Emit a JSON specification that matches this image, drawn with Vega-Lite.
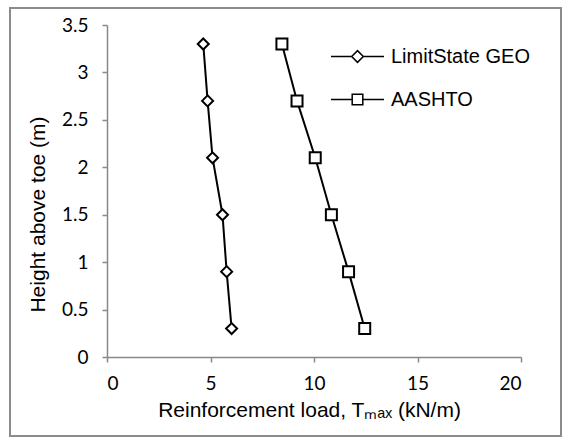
{
  "$schema": "https://vega.github.io/schema/vega-lite/v6.json",
  "width": 414,
  "height": 332,
  "autosize": {"type": "none"},
  "padding": {"left": 107, "top": 25, "right": 45, "bottom": 80},
  "background": "white",
  "config": {
    "view": {"stroke": null},
    "axis": {
      "grid": false,
      "domainColor": "#898989",
      "domainWidth": 1.5,
      "tickColor": "#898989",
      "tickWidth": 1.5,
      "tickSize": 5,
      "labelFont": "Lato",
      "labelFontSize": 19,
      "labelColor": "black",
      "titleFont": "Liberation Sans",
      "titleFontSize": 21,
      "titleFontWeight": "normal",
      "titleColor": "black"
    }
  },
  "data": {
    "values": [
      {"series": "LimitState GEO", "load": 4.65, "height": 3.3},
      {"series": "LimitState GEO", "load": 4.86, "height": 2.7},
      {"series": "LimitState GEO", "load": 5.1, "height": 2.1},
      {"series": "LimitState GEO", "load": 5.58, "height": 1.5},
      {"series": "LimitState GEO", "load": 5.78, "height": 0.9},
      {"series": "LimitState GEO", "load": 6.02, "height": 0.3},
      {"series": "AASHTO", "load": 8.45, "height": 3.3},
      {"series": "AASHTO", "load": 9.18, "height": 2.7},
      {"series": "AASHTO", "load": 10.06, "height": 2.1},
      {"series": "AASHTO", "load": 10.84, "height": 1.5},
      {"series": "AASHTO", "load": 11.67, "height": 0.9},
      {"series": "AASHTO", "load": 12.45, "height": 0.3}
    ]
  },
  "layer": [
    {
      "mark": {"type": "rect", "fill": null, "stroke": "#8c8c8c", "strokeWidth": 1.5},
      "encoding": {
        "x": {"datum": -4.69, "type": "quantitative"},
        "x2": {"datum": 21.93},
        "y": {"datum": 3.679, "type": "quantitative"},
        "y2": {"datum": -0.833}
      }
    },
    {
      "mark": {"type": "line", "color": "black", "strokeWidth": 2},
      "encoding": {
        "x": {
          "field": "load", "type": "quantitative",
          "scale": {"domain": [0, 20], "nice": false},
          "axis": {"values": [0, 5, 10, 15, 20], "labelPadding": 12, "titlePadding": 6,
                   "titleX": 202,
                   "title": "Reinforcement load, Tₘₐₓ (kN/m)"}
        },
        "y": {
          "field": "height", "type": "quantitative",
          "scale": {"domain": [0, 3.5], "nice": false},
          "axis": {"values": [0, 0.5, 1, 1.5, 2, 2.5, 3, 3.5], "format": ".1~f", "labelPadding": 14, "titlePadding": 13,
                   "titleY": 189,
                   "title": "Height above toe (m)"}
        },
        "detail": {"field": "series"},
        "order": {"field": "height"}
      }
    },
    {
      "mark": {"type": "point", "filled": true, "fill": "white", "stroke": "black", "strokeWidth": 2, "opacity": 1},
      "encoding": {
        "x": {"field": "load", "type": "quantitative"},
        "y": {"field": "height", "type": "quantitative"},
        "shape": {
          "field": "series", "type": "nominal",
          "scale": {"domain": ["LimitState GEO", "AASHTO"], "range": ["diamond", "square"]},
          "legend": null
        },
        "size": {"value": 121}
      }
    },
    {
      "mark": {"type": "point", "filled": true, "fill": "white", "stroke": "black", "strokeWidth": 2, "opacity": 0},
      "encoding": {
        "x": {"field": "load", "type": "quantitative"},
        "y": {"field": "height", "type": "quantitative"},
        "size": {"value": 2809},
        "shape": {
          "field": "series", "type": "nominal",
          "scale": {"domain": ["LimitState GEO", "AASHTO"],
                    "range": ["M -1 0 L -0.22 0 M 0.22 0 L 1 0 M -0.22 0 L 0 -0.22 L 0.22 0 L 0 0.22 Z",
                              "M -1 0 L -0.2 0 M 0.2 0 L 1 0 M -0.2 -0.2 L 0.2 -0.2 L 0.2 0.2 L -0.2 0.2 Z"]},
          "legend": {
            "title": null,
            "orient": "none",
            "legendX": 223,
            "legendY": 4,
            "padding": 0,
            "rowPadding": 5,
            "labelOffset": 6,
            "labelFont": "Liberation Sans",
            "labelFontSize": 20,
            "labelColor": "black",
            "symbolSize": 2809,
            "values": ["LimitState GEO", "AASHTO"],
            "encode": {
              "symbols": {
                "update": {
                  "opacity": {"value": 1},
                  "fillOpacity": {"value": 1},
                  "strokeOpacity": {"value": 1},
                  "fill": {"value": "white"},
                  "stroke": {"value": "black"},
                  "strokeWidth": {"value": 2}
                }
              }
            }
          }
        }
      }
    }
  ],
  "resolve": {"scale": {"shape": "independent"}, "legend": {"shape": "independent"}}
}
